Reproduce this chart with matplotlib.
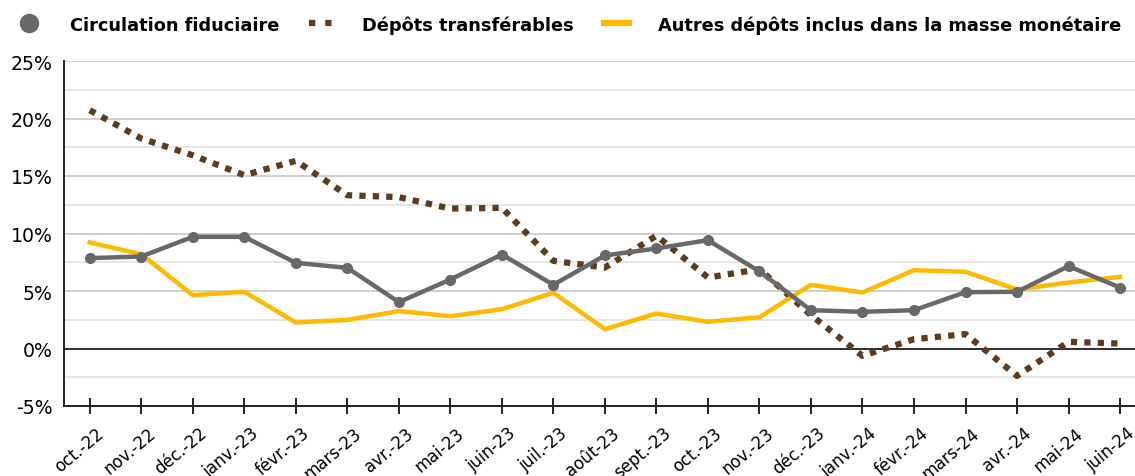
import matplotlib
matplotlib.use("Agg")
import matplotlib.pyplot as plt
from matplotlib.ticker import MultipleLocator, FuncFormatter
from matplotlib.lines import Line2D
from matplotlib.transforms import ScaledTranslation

plt.rcParams['font.family'] = ['DejaVu Sans']

months = ["oct.-22", "nov.-22", "déc.-22", "janv.-23", "févr.-23", "mars-23", "avr.-23",
          "mai-23", "juin-23", "juil.-23", "août-23", "sept.-23", "oct.-23", "nov.-23",
          "déc.-23", "janv.-24", "févr.-24", "mars-24", "avr.-24", "mai-24", "juin-24"]

circulation = [7.86, 8.0, 9.71, 9.71, 7.45, 7.01, 4.03, 6.0, 8.17, 5.54, 8.09, 8.70,
               9.42, 6.70, 3.33, 3.19, 3.33, 4.90, 4.93, 7.16, 5.30]
transferables = [20.72, 18.26, 16.8, 15.07, 16.32, 13.33, 13.16, 12.17, 12.23, 7.62, 7.04,
                 9.8, 6.17, 6.9, 2.9, -0.64, 0.81, 1.25, -2.38, 0.58, 0.43]
autres = [9.22, 8.2, 4.64, 4.93, 2.26, 2.49, 3.25, 2.81, 3.42, 4.84, 1.68, 3.04, 2.32,
          2.72, 5.54, 4.87, 6.81, 6.67, 5.13, 5.74, 6.23]

labels = ["Circulation fiduciaire", "Dépôts transférables",
          "Autres dépôts inclus dans la masse monétaire"]

c_grey = "#686868"
c_brown = "#5e3c1b"
c_yellow = "#FFB900"

fig = plt.figure(figsize=(11.35, 4.77), dpi=100)
ax = fig.add_axes([64/1135, 70/477, 1 - 64/1135, 345/477])

x = list(range(len(months)))
ax.plot(x, transferables, color=c_brown, lw=4.5, linestyle=(0, (1, 1.15)),
        dash_capstyle='butt', zorder=3)
ax.plot(x, autres, color=c_yellow, lw=3.2, zorder=4)
ax.plot(x, circulation, color=c_grey, lw=3.2, marker='o', markersize=7, zorder=5)

ax.set_ylim(-5, 25)
ax.set_xlim(-0.5, 20.29)
ax.yaxis.set_major_locator(MultipleLocator(5))
ax.yaxis.set_minor_locator(MultipleLocator(2.5))
ax.yaxis.set_major_formatter(FuncFormatter(lambda v, p: f"{v:.0f}%"))
ax.grid(axis='y', which='major', color='#c6c6c6', lw=1.2, zorder=0)
ax.grid(axis='y', which='minor', color='#e2e2e2', lw=1.2, zorder=0)
ax.axhline(0, color='#222222', lw=1.3, zorder=2)

ax.set_xticks(x)
ax.set_xticklabels(months, rotation=40, ha='right', rotation_mode='anchor', fontsize=12)
ax.tick_params(axis='x', direction='inout', length=11.5, width=1.3, color='#111111', pad=7)
ax.tick_params(axis='y', length=0, labelsize=13.6, pad=8)
ax.tick_params(axis='y', which='minor', length=0)
off = ScaledTranslation(6/100, 0, fig.dpi_scale_trans)
for lab in ax.get_xticklabels():
    lab.set_transform(lab.get_transform() + off)

for s in ['top', 'right']:
    ax.spines[s].set_visible(False)
for s in ['left', 'bottom']:
    ax.spines[s].set_color('#111111')
    ax.spines[s].set_linewidth(1.3)

handles = [
    Line2D([], [], color=c_grey, marker='o', markersize=13, linestyle='none'),
    Line2D([], [], color=c_brown, lw=4.5, linestyle=(0, (1, 1.6)), dash_capstyle='butt'),
    Line2D([], [], color=c_yellow, lw=4.5),
]
fig.legend(handles, labels, loc='upper center',
           bbox_to_anchor=(0.501, 1.0), ncol=3, frameon=False,
           prop={'weight': 'bold', 'size': 12.8}, handlelength=1.4,
           handletextpad=1.6, columnspacing=1.7)

fig.savefig("out.png", dpi=100)
